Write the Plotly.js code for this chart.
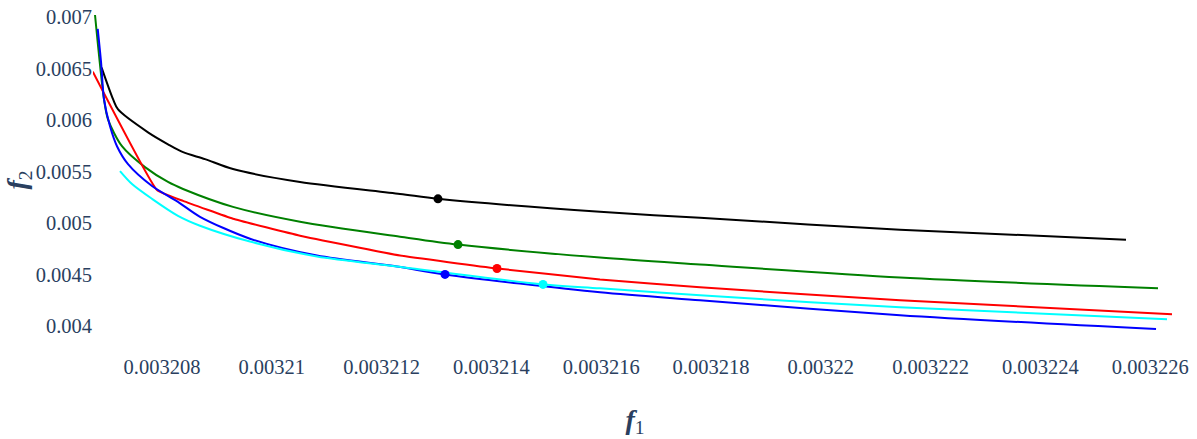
<!DOCTYPE html>
<html>
<head>
<meta charset="utf-8">
<script src="https://cdn.plot.ly/plotly-3.0.1.min.js"></script>
<style>html,body{margin:0;padding:0;background:#fff;}#chart{width:1197px;height:439px;}</style>
</head>
<body>
<div id="chart"></div>
<script>
// Pareto fronts (f1 vs f2)
const blackX = [0.0032069, 0.00320711, 0.0032072, 0.003207745, 0.003208109, 0.003208383, 0.003208783, 0.003209293, 0.003210514, 0.003212335, 0.003213027, 0.003215978, 0.0032178, 0.003221443, 0.003225559];
const blackY = [0.006508, 0.006199, 0.006102, 0.005880, 0.005764, 0.005687, 0.005620, 0.005523, 0.005398, 0.005282, 0.005234, 0.005108, 0.005050, 0.004934, 0.004838];

const greenX = [0.00320678, 0.003206944, 0.003207016, 0.003207271, 0.00320769, 0.003208109, 0.003208383, 0.003209293, 0.003210514, 0.003212335, 0.003213392, 0.003215978, 0.0032178, 0.003221443, 0.003226142];
const greenY = [0.007019, 0.006199, 0.006006, 0.005745, 0.005542, 0.005398, 0.005330, 0.005156, 0.005012, 0.004867, 0.004790, 0.004664, 0.004597, 0.004471, 0.004365];

const redX = [0.00320674, 0.003207909, 0.003208383, 0.003209293, 0.003210514, 0.003212335, 0.003214102, 0.003215978, 0.0032178, 0.003221443, 0.003226397];
const redY = [0.006469, 0.005320, 0.005214, 0.005041, 0.004876, 0.004683, 0.004558, 0.004452, 0.004375, 0.004249, 0.004114];

const blueX = [0.003206829, 0.00320689, 0.003206944, 0.003207053, 0.00320718, 0.003207381, 0.003207818, 0.003208291, 0.003208692, 0.003209603, 0.003210823, 0.00321228, 0.003213155, 0.003215978, 0.0032178, 0.003221443, 0.003226106];
const blueY = [0.006884, 0.006560, 0.006199, 0.005938, 0.005745, 0.005571, 0.005359, 0.005205, 0.005060, 0.004847, 0.004683, 0.004577, 0.004500, 0.004326, 0.004249, 0.004104, 0.003969];

const cyanX = [0.003207235, 0.003207454, 0.003207818, 0.003208291, 0.003208692, 0.003209603, 0.003210823, 0.00321228, 0.00321494, 0.003215978, 0.0032178, 0.003221443, 0.003226306];
const cyanY = [0.005504, 0.005378, 0.005234, 0.005069, 0.004973, 0.004819, 0.004674, 0.004577, 0.004403, 0.004365, 0.004297, 0.004181, 0.004066];

// highlighted points
const pointX = [0.003213027, 0.003213392, 0.003214102, 0.003213155, 0.00321494];
const pointY = [0.005234, 0.004790, 0.004558, 0.004500, 0.004403];
const colors = ['black', 'green', 'red', 'blue', 'cyan'];

const series = [[blackX, blackY], [greenX, greenY], [redX, redY], [blueX, blueY], [cyanX, cyanY]];
const traces = series.map((s, i) => ({
  x: s[0], y: s[1], type: 'scatter', mode: 'lines',
  line: {color: colors[i], width: 2, shape: 'spline', smoothing: i === 2 ? 0.3 : 0.8},
  showlegend: false
}));
pointX.forEach((px, i) => traces.push({
  x: [px], y: [pointY[i]], type: 'scatter', mode: 'markers',
  marker: {color: colors[i], size: 9}, showlegend: false
}));

const fam = 'Liberation Serif, DejaVu Serif, Times New Roman, Times, serif';
const font = {family: fam, size: 20.5, color: '#2a3f5f'};
const layout = {
  width: 1197, height: 439,
  margin: {l: 93, r: 20, t: 12, b: 91},
  paper_bgcolor: '#fff', plot_bgcolor: '#fff',
  font: font,
  showlegend: false,
  xaxis: {
    range: [0.0032067432, 0.003226488],
    tickvals: [0.003208, 0.00321, 0.003212, 0.003214, 0.003216, 0.003218, 0.00322, 0.003222, 0.003224, 0.003226],
    ticktext: ['0.003208', '0.00321', '0.003212', '0.003214', '0.003216', '0.003218', '0.00322', '0.003222', '0.003224', '0.003226'],
    showgrid: false, zeroline: false, showline: false, ticks: '',
    ticklabelstandoff: 4,
    tickfont: font,
    title: {text: '<b><i>f</i></b><sub>1</sub>', font: {family: fam, size: 28, color: '#2a3f5f'}, standoff: 32}
  },
  yaxis: {
    range: [0.0037857, 0.0070483],
    tickvals: [0.004, 0.0045, 0.005, 0.0055, 0.006, 0.0065, 0.007],
    ticktext: ['0.004', '0.0045', '0.005', '0.0055', '0.006', '0.0065', '0.007'],
    showgrid: false, zeroline: false, showline: false, ticks: '',
    tickfont: font,
    title: {text: '<b><i>f</i></b><sub>2</sub>', font: {family: fam, size: 28, color: '#2a3f5f'}, standoff: 0}
  }
};
Plotly.newPlot('chart', traces, layout, {displayModeBar: false, staticPlot: true});
</script>
</body>
</html>
